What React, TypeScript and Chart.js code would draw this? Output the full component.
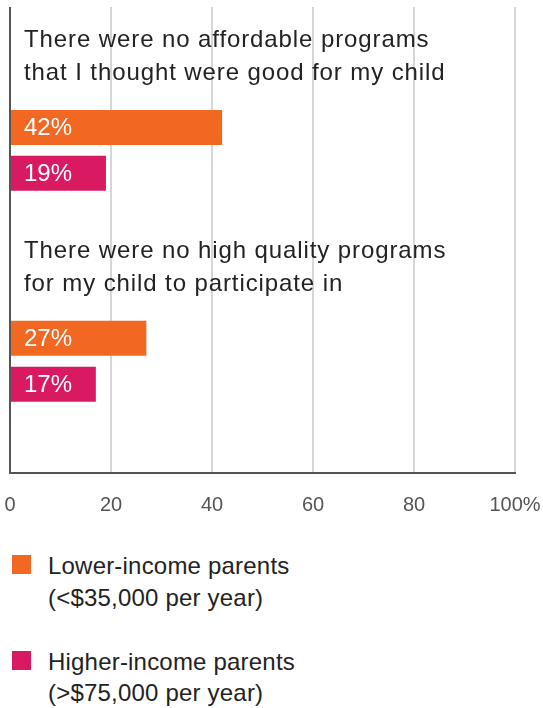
import React, { useEffect, useRef } from 'react';
import { Chart, registerables } from 'chart.js';

Chart.register(...registerables);

const categories: string[][] = [
  ['There were no affordable programs', 'that I thought were good for my child'],
  ['There were no high quality programs', 'for my child to participate in'],
];
const seriesNames: string[][] = [
  ['Lower-income parents', '(<$35,000 per year)'],
  ['Higher-income parents', '(>$75,000 per year)'],
];
const lowerIncome = [42, 27];
const higherIncome = [19, 17];
const seriesValues = [lowerIncome, higherIncome];
const seriesColors = ['#F26722', '#D91A62'];
const xTickLabels = ['0', '20', '40', '60', '80', '100%'];

const FONT = '"Liberation Sans", Arial, sans-serif';
const Y_MIN = -0.68;
const Y_MAX = 1.53;

const labelPlugin = {
  id: 'catLabels',
  afterDatasetsDraw(chart: any) {
    const { ctx, scales } = chart;
    const x = scales.x;
    const y = scales.y;
    ctx.save();
    ctx.textAlign = 'left';
    ctx.textBaseline = 'alphabetic';
    ctx.fillStyle = '#232323';
    ctx.font = `24px ${FONT}`;
    try { (ctx as any).letterSpacing = '0.9px'; } catch (e) { /* ignore */ }
    categories.forEach((lines, i) => {
      const cy = y.getPixelForValue(i);
      lines.forEach((line, j) => {
        ctx.fillText(line, x.left + 14, cy - 103 + j * 33);
      });
    });
    try { (ctx as any).letterSpacing = '0px'; } catch (e) { /* ignore */ }
    ctx.fillStyle = '#ffffff';
    ctx.font = `24px ${FONT}`;
    chart.data.datasets.forEach((ds: any, di: number) => {
      const meta = chart.getDatasetMeta(di);
      meta.data.forEach((bar: any, i: number) => {
        ctx.fillText(`${seriesValues[di][i]}%`, x.left + 14, bar.y + 8);
      });
    });
    ctx.restore();
  },
};

export default function App() {
  const ref = useRef<HTMLCanvasElement>(null);
  useEffect(() => {
    if (!ref.current) return;
    const chart = new Chart(ref.current, {
      type: 'bar',
      data: {
        datasets: seriesValues.map((vals, si) => ({
          label: seriesNames[si].join(' '),
          data: vals.map((v, i) => ({ x: v, y: i })),
          backgroundColor: seriesColors[si],
          borderWidth: 0,
          categoryPercentage: 0.435,
          barPercentage: 0.764,
        })),
      },
      options: {
        indexAxis: 'y',
        animation: false,
        responsive: false,
        devicePixelRatio: 1,
        layout: { padding: { left: 10, right: 28, top: 7, bottom: 28 } },
        plugins: { legend: { display: false }, tooltip: { enabled: false } },
        scales: {
          x: {
            type: 'linear',
            position: 'bottom',
            min: 0,
            max: 100,
            ticks: {
              stepSize: 20,
              color: '#555555',
              font: { family: FONT, size: 20 },
              padding: 0,
              callback: (_v: any, i: number) => xTickLabels[i],
            },
            grid: {
              color: (c: any) => (c.tick && c.tick.value === 0 ? '#555555' : '#d6d6d6'),
              lineWidth: 2,
              drawTicks: true,
              tickLength: 20,
              tickColor: 'rgba(0,0,0,0)',
            },
            border: { display: true, color: '#555555', width: 2 },
          },
          y: {
            type: 'linear',
            reverse: true,
            offset: false,
            min: Y_MIN,
            max: Y_MAX,
            display: false,
            grid: { offset: false },
            afterBuildTicks: (s: any) => {
              s.ticks = categories.map((_c, i) => ({ value: i }));
            },
          },
        },
      },
      plugins: [labelPlugin],
    } as any);
    return () => chart.destroy();
  }, []);

  return (
    <div style={{ position: 'absolute', left: 0, top: 0, width: 543, height: 708, background: '#fff' }}>
      <canvas ref={ref} width={543} height={545} style={{ position: 'absolute', left: 0, top: 0 }} />
      <div style={{ position: 'absolute', left: 0, top: 550, fontFamily: FONT, fontSize: 24, lineHeight: '31.5px', color: '#232323', letterSpacing: '0.2px' }}>
        {seriesNames.map((lines, si) => (
          <div key={si} style={{ position: 'relative', paddingLeft: 48, marginBottom: si === 0 ? 32.5 : 0 }}>
            <span style={{ position: 'absolute', left: 12, top: 5, width: 19, height: 19, background: seriesColors[si] }} />
            {lines.map((l, j) => (
              <div key={j}>{l}</div>
            ))}
          </div>
        ))}
      </div>
    </div>
  );
}
